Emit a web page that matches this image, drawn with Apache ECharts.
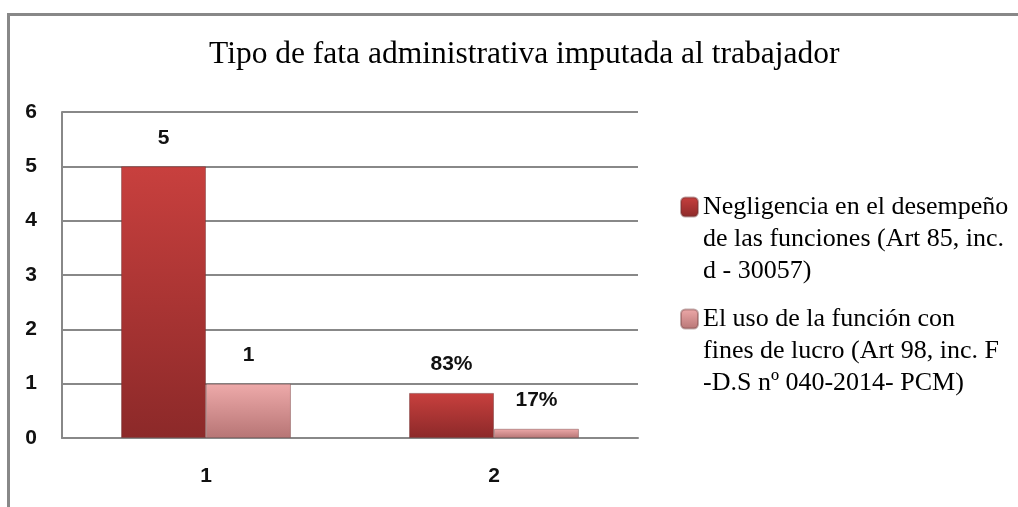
<!DOCTYPE html>
<html>
<head>
<meta charset="utf-8">
<script src="https://cdn.jsdelivr.net/npm/echarts@6/dist/echarts.min.js"></script>
<style>
html,body{margin:0;padding:0;background:#fff;}
#chart{width:1018px;height:507px;}
</style>
</head>
<body>
<div id="chart"></div>
<script>
const titleText = 'Tipo de fata administrativa imputada al trabajador';
const categories = ['1', '2'];
const seriesNames = [
  'Negligencia en el desempeño\nde las funciones (Art 85, inc.\nd - 30057)',
  'El uso de la función con\nfines de lucro (Art 98, inc. F\n-D.S nº 040-2014- PCM)'
];
const negligenciaValues = [5, 0.83];
const usoValues = [1, 0.17];
const negligenciaLabels = ['5', '83%'];
const usoLabels = ['1', '17%'];
const yTicks = [0, 1, 2, 3, 4, 5, 6];

const chart = echarts.init(document.getElementById('chart'));
const grey = '#888888';
const tickFont = { fontFamily: 'Liberation Sans', fontWeight: 'bold', fontSize: 21, color: '#111' };

function grad(c0, c1) {
  return new echarts.graphic.LinearGradient(0, 0, 0, 1, [
    { offset: 0, color: c0 }, { offset: 1, color: c1 }
  ]);
}

const legendText = {
  fontFamily: 'Liberation Serif', fontSize: 26, lineHeight: 32, color: '#000'
};
// two leading empty lines keep the marker level with the first text line
const legendFormatter = name => '\n\n' + name;

chart.setOption({
  animation: false,
  backgroundColor: '#fff',
  title: {
    text: titleText, left: 204, top: 34,
    textStyle: { fontFamily: 'Liberation Serif', fontWeight: 'normal', fontSize: 31.5, color: '#000' }
  },
  legend: [
    { data: [seriesNames[0]], left: 675, top: 122, itemWidth: 17, itemHeight: 19, textStyle: legendText, formatter: legendFormatter, selectedMode: false },
    { data: [seriesNames[1]], left: 675, top: 234, itemWidth: 17, itemHeight: 19, textStyle: legendText, formatter: legendFormatter, selectedMode: false }
  ],
  graphic: [
    { type: 'line', shape: { x1: 8, y1: 14.5, x2: 1018, y2: 14.5 }, style: { stroke: grey, lineWidth: 3 } },
    { type: 'line', shape: { x1: 8.5, y1: 13, x2: 8.5, y2: 507 }, style: { stroke: grey, lineWidth: 3 } }
  ],
  grid: { left: 62, right: 380, top: 112, bottom: 69 },
  xAxis: {
    type: 'category', data: categories,
    axisLine: { lineStyle: { color: grey, width: 2 } },
    axisTick: { show: false },
    axisLabel: Object.assign({ margin: 28 }, tickFont)
  },
  yAxis: {
    type: 'value', min: yTicks[0], max: yTicks[yTicks.length - 1], interval: 1,
    axisLine: { show: true, lineStyle: { color: grey, width: 2 } },
    axisTick: { show: false },
    splitLine: { lineStyle: { color: grey, width: 2 } },
    axisLabel: Object.assign({ margin: 25 }, tickFont)
  },
  series: [
    {
      name: seriesNames[0], type: 'bar', data: negligenciaValues,
      barGap: '0%', barCategoryGap: '41%',
      itemStyle: { color: grad('#c8403e', '#8c2929'), borderColor: 'rgba(110,50,50,0.45)', borderWidth: 1 },
      label: { show: true, position: 'top', distance: 18, formatter: p => negligenciaLabels[p.dataIndex], ...tickFont }
    },
    {
      name: seriesNames[1], type: 'bar', data: usoValues,
      itemStyle: { color: grad('#eeaaaa', '#b77575'), borderColor: 'rgba(120,70,70,0.45)', borderWidth: 1 },
      label: { show: true, position: 'top', distance: 18, formatter: p => usoLabels[p.dataIndex], ...tickFont }
    }
  ]
});
</script>
</body>
</html>
